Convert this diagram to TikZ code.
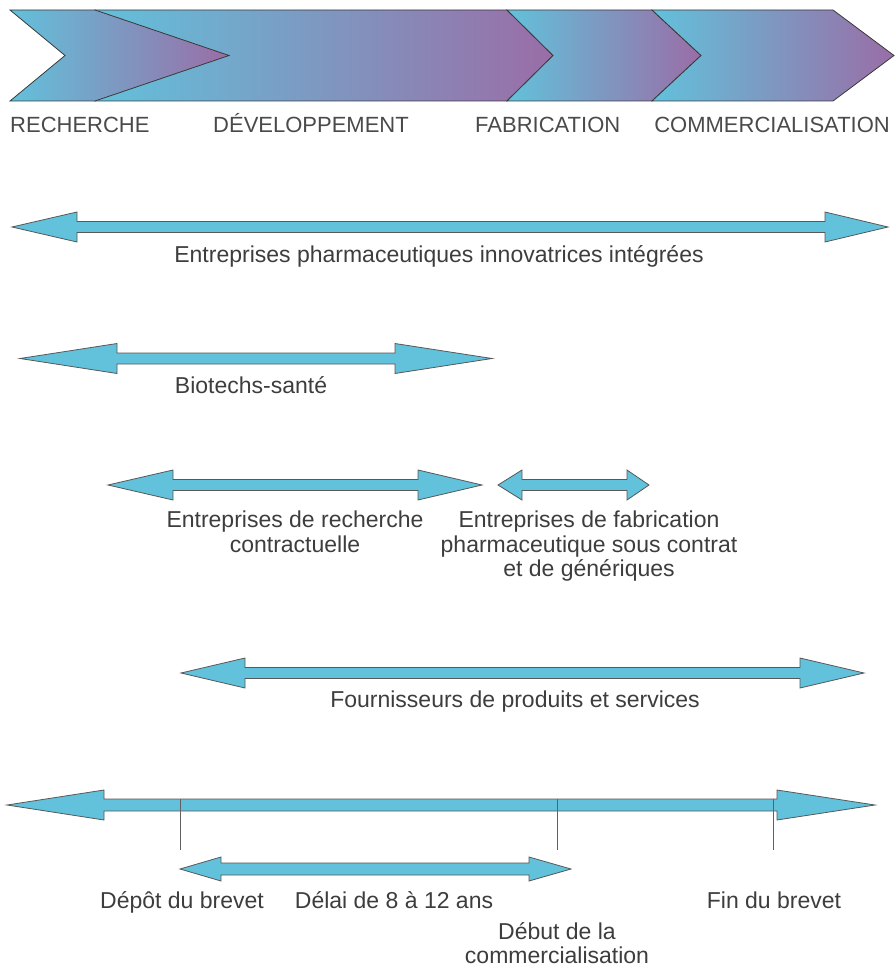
\documentclass[tikz,border=0pt]{standalone}
\usepackage{fontspec}
\setmainfont{Liberation Sans}
\definecolor{arrowcyan}{HTML}{62C2DB}
\definecolor{chevcyan}{HTML}{62C1DB}
\definecolor{chevpurple}{HTML}{9A6DA6}
\definecolor{edgegray}{HTML}{3A3A3A}
\definecolor{textgray}{HTML}{3D3D3D}
\definecolor{headgray}{HTML}{4A4A4A}
\tikzset{
  chevron/.style={left color=chevcyan, right color=chevpurple, draw=edgegray, line width=0.8pt, line join=miter},
  bigarrow/.style={fill=arrowcyan, draw=edgegray!85, line width=0.8pt, line join=miter},
  tick/.style={draw=edgegray!80, line width=1pt},
  lbl/.style={text=textgray, font=\fontsize{23}{24.5}\selectfont, inner sep=0pt, anchor=base, align=center},
  head/.style={text=headgray, font=\fontsize{22}{24}\selectfont, inner sep=0pt, anchor=base west},
}
% #1 left tip x, #2 left head base, #3 right head base, #4 right tip, #5 y, #6 shaft half, #7 head half
\newcommand\dblarrowshape[7]{%
  \draw[bigarrow] (#1,#5) -- (#2,#5-#7) -- (#2,#5-#6) -- (#3,#5-#6) -- (#3,#5-#7) -- (#4,#5)
    -- (#3,#5+#7) -- (#3,#5+#6) -- (#2,#5+#6) -- (#2,#5+#7) -- cycle;}
\begin{document}
\begin{tikzpicture}[x=1pt,y=-1pt]
\useasboundingbox (0,0) rectangle (895,971);
% chevrons
\shade[chevron] (95,10) -- (507,10) -- (553,55.5) -- (507,101) -- (95,101) -- (150,55.5) -- cycle;
\shade[chevron] (10,10) -- (95,10) -- (229,55.5) -- (95,101) -- (10,101) -- (65,55.5) -- cycle;
\shade[chevron] (507,10) -- (652,10) -- (701,55.5) -- (652,101) -- (507,101) -- (553,55.5) -- cycle;
\shade[chevron] (652,10) -- (833,10) -- (894,55.5) -- (833,101) -- (652,101) -- (701,55.5) -- cycle;
\node[head] (hrech) at (10,132) {RECHERCHE};
\node[head] (hdev) at (213,132) {DÉVELOPPEMENT};
\node[head] (hfab) at (475,132) {FABRICATION};
\node[head, anchor=base east] (hcom) at (890,132) {COMMERCIALISATION};
% arrows
\dblarrowshape{12}{77}{825}{888}{227}{5.5}{15}
\node[lbl] (l1) at (439,262) {Entreprises pharmaceutiques innovatrices intégrées};
\dblarrowshape{20}{117}{395}{492}{358.5}{5.5}{15}
\node[lbl] (l2) at (251,393) {Biotechs-santé};
\dblarrowshape{108}{173}{418}{482}{485}{5.5}{15}
\node[lbl, anchor=north] (l3) at (295,511) {Entreprises de recherche\\contractuelle};
\dblarrowshape{498}{522}{627}{649}{485}{5.5}{15}
\node[lbl, anchor=north] (l4) at (589,511) {Entreprises de fabrication\\pharmaceutique sous contrat\\et de génériques};
\dblarrowshape{181}{245}{800}{864}{673}{5.5}{15}
\node[lbl] (l5) at (515,707) {Fournisseurs de produits et services};
% timeline
\dblarrowshape{7}{104}{777}{875}{805}{6}{15}
\coordinate (t1a) at (180,799); \coordinate (t1b) at (180,850);
\coordinate (t2a) at (557,799); \coordinate (t2b) at (557,850);
\coordinate (t3a) at (773,799); \coordinate (t3b) at (773,850);
\draw[tick] (t1a) -- (t1b);
\draw[tick] (t2a) -- (t2b);
\draw[tick] (t3a) -- (t3b);
\dblarrowshape{180}{221}{529}{571}{869}{6}{12}
\node[lbl] (d1) at (182,908) {Dépôt du brevet};
\node[lbl] (d2) at (394,908) {Délai de 8 à 12 ans};
\node[lbl] (d3) at (774,908) {Fin du brevet};
\node[lbl, anchor=north] (d4) at (557,922) {Début de la\\commercialisation};
\end{tikzpicture}
\end{document}
